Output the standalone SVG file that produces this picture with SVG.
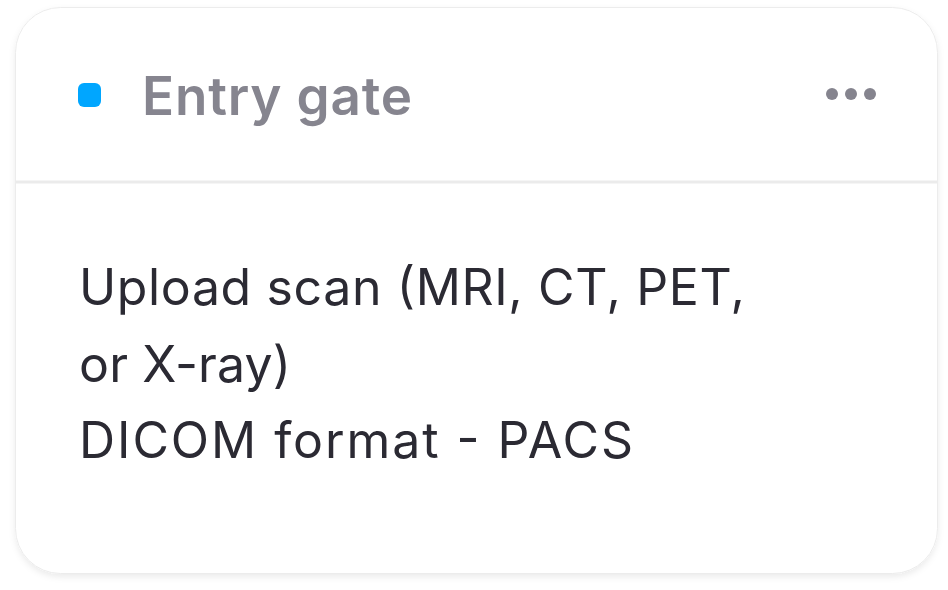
<svg xmlns="http://www.w3.org/2000/svg" width="948" height="590" viewBox="0 0 948 590">
<defs>
<filter id="sh" x="-10%" y="-10%" width="120%" height="125%">
<feDropShadow dx="0" dy="3" stdDeviation="3" flood-color="#000" flood-opacity="0.08"/>
</filter>
<style>
.title{font-family:Inter,"Liberation Sans",sans-serif;font-size:53px;font-weight:600;fill:#86858f}
.body{font-family:Inter,"Liberation Sans",sans-serif;font-size:50px;font-weight:400;fill:#2b2a33}
</style>
</defs>
<rect width="948" height="590" fill="#ffffff"/>
<g id="card">
<rect x="15.5" y="7.5" width="922" height="566" rx="45" fill="#ffffff" stroke="#ececec" stroke-width="1" filter="url(#sh)"/>
<line x1="16" y1="182" x2="937" y2="182" stroke="#ebebeb" stroke-width="3"/>
<rect x="78" y="83" width="23" height="24" rx="6" fill="#00a6ff"/>
<text class="title" x="142" y="115" textLength="270" lengthAdjust="spacing">Entry gate</text>
<circle cx="832" cy="94" r="6" fill="#85848e"/>
<circle cx="851" cy="94" r="6" fill="#85848e"/>
<circle cx="870" cy="94" r="6" fill="#85848e"/>
<text class="body" x="79" y="305" textLength="666" lengthAdjust="spacing">Upload scan (MRI, CT, PET,</text>
<text class="body" x="79" y="382" textLength="212" lengthAdjust="spacing">or X-ray)</text>
<text class="body" x="79" y="458" textLength="554" lengthAdjust="spacing">DICOM format - PACS</text>
</g>
</svg>
